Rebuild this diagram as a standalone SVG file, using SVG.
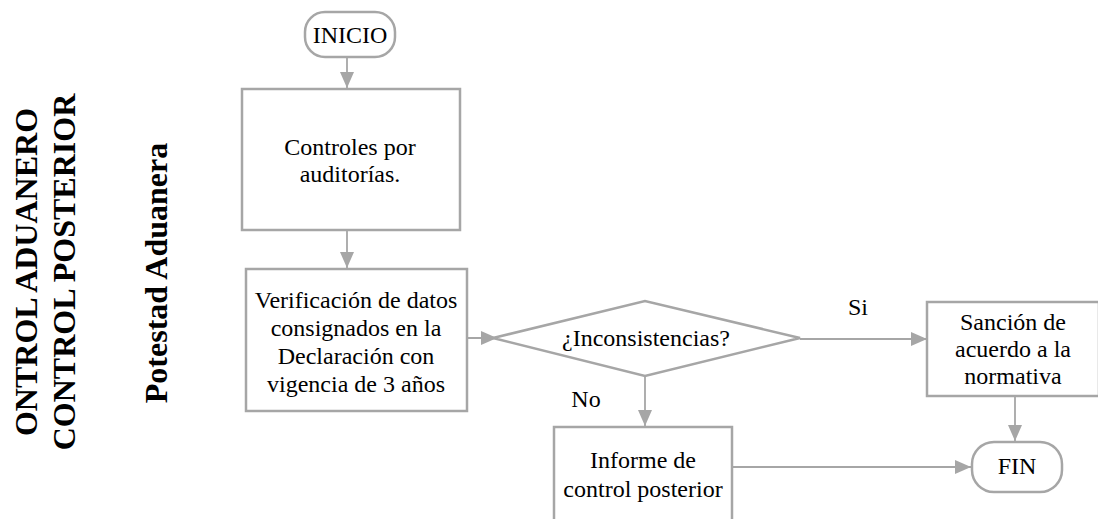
<svg xmlns="http://www.w3.org/2000/svg" width="1098" height="519" viewBox="0 0 1098 519">
<style>
.box{fill:#fff;stroke:#a6a6a6;stroke-width:2.5}
.ln{fill:none;stroke:#a6a6a6;stroke-width:1.8}
.lbl{font-family:'Liberation Serif','Times New Roman',serif;font-size:24px;fill:#000;text-anchor:middle}
.vert{font-family:'Liberation Serif','Times New Roman',serif;font-size:32px;font-weight:bold;fill:#000;text-anchor:middle}
</style>
<defs>
<marker id="a" viewBox="0 0 16 14" refX="16" refY="7" markerWidth="16" markerHeight="14" markerUnits="userSpaceOnUse" orient="auto">
<path d="M0,0 L16,7 L0,14 z" fill="#a6a6a6"/>
</marker>
</defs>
<g id="labels-left">
<text class="vert" transform="translate(37,272) rotate(-90)">ONTROL ADUANERO</text>
<text class="vert" transform="translate(75,272) rotate(-90)">CONTROL POSTERIOR</text>
<text class="vert" transform="translate(167,273) rotate(-90)">Potestad Aduanera</text>
</g>
<g id="connectors">
<line class="ln" x1="347" y1="57" x2="347" y2="88" marker-end="url(#a)"/>
<line class="ln" x1="347" y1="230" x2="347" y2="268" marker-end="url(#a)"/>
<line class="ln" x1="458" y1="338" x2="497" y2="338" marker-end="url(#a)"/>
<line class="ln" x1="800" y1="339" x2="927" y2="339" marker-end="url(#a)"/>
<line class="ln" x1="645" y1="376" x2="645" y2="426" marker-end="url(#a)"/>
<line class="ln" x1="1015" y1="396" x2="1015" y2="441" marker-end="url(#a)"/>
<line class="ln" x1="732" y1="467" x2="971" y2="467" marker-end="url(#a)"/>
<text class="lbl" x="858" y="315">Si</text>
<text class="lbl" x="586" y="407">No</text>
</g>
<g id="inicio">
<rect class="box" x="305" y="12" width="90" height="45" rx="20" ry="20"/>
<text class="lbl" x="350" y="43">INICIO</text>
</g>
<g id="controles">
<rect class="box" x="242" y="89" width="218" height="141"/>
<text class="lbl" x="350" y="155">Controles por</text>
<text class="lbl" x="350" y="182">auditorías.</text>
</g>
<g id="verificacion">
<rect class="box" x="246" y="269" width="221" height="142"/>
<text class="lbl" x="356" y="308">Verificación de datos</text>
<text class="lbl" x="356" y="336">consignados en la</text>
<text class="lbl" x="356" y="364">Declaración con</text>
<text class="lbl" x="356" y="392">vigencia de 3 años</text>
</g>
<g id="decision">
<polygon class="box" points="493,338 645,301 800,338 645,376"/>
<text class="lbl" x="646" y="346">¿Inconsistencias?</text>
</g>
<g id="sancion">
<rect class="box" x="927" y="302" width="172" height="94"/>
<text class="lbl" x="1013" y="330">Sanción de</text>
<text class="lbl" x="1013" y="357">acuerdo a la</text>
<text class="lbl" x="1013" y="384">normativa</text>
</g>
<g id="informe">
<rect class="box" x="554" y="427" width="178" height="110"/>
<text class="lbl" x="643" y="468">Informe de</text>
<text class="lbl" x="643" y="497">control posterior</text>
</g>
<g id="fin">
<rect class="box" x="972" y="442" width="90" height="50" rx="22" ry="22"/>
<text class="lbl" x="1017" y="474">FIN</text>
</g>
</svg>
